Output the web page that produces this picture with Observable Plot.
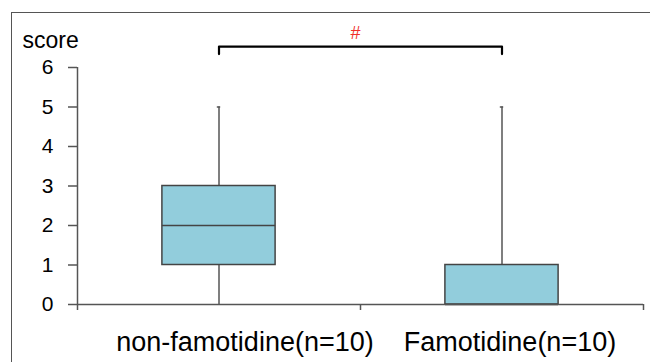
<!DOCTYPE html>
<html>
<head>
<meta charset="utf-8">
<script src="https://cdn.jsdelivr.net/npm/d3@7"></script>
<script src="https://cdn.jsdelivr.net/npm/@observablehq/plot@0.6"></script>
<style>
  html, body { margin: 0; padding: 0; background: #fff; }
  #wrap { position: relative; width: 650px; height: 362px; overflow: hidden; }
  #border { position: absolute; left: 11px; top: 12px; width: 700px; height: 400px;
            border-top: 1.5px solid #555; border-left: 1.5px solid #555; }
  #chart { position: absolute; left: 0; top: 0; }
  svg { font-family: "Liberation Sans", Arial, sans-serif; }
</style>
</head>
<body>
<div id="wrap"><div id="border"></div><div id="chart"></div></div>
<script>
// ---- data ----
const groups = ["non-famotidine(n=10)", "Famotidine(n=10)"];
const whiskerLow = [0, 0];
const q1 = [1, 0];
const median = [2, 0];
const q3 = [3, 1];
const whiskerHigh = [5, 5];
const yTicks = [0, 1, 2, 3, 4, 5, 6];
const yLabel = "score";
const sigMark = "#";
const bracketTop = 6.53;
const bracketEnd = 6.34;

// ---- styles ----
const halfBox = 0.2;        // box half-width in band units
const capHalf = 0.006;
const labelDx = [26, 8];
const boxFill = "#92cddc";
const lineCol = "#555";

const rows = groups.map((g, i) => ({
  g, c: i + 0.5, lo: whiskerLow[i], q1: q1[i], med: median[i], q3: q3[i], hi: whiskerHigh[i]
}));
const bracket = [
  {x: rows[0].c, y: bracketEnd}, {x: rows[0].c, y: bracketTop},
  {x: rows[1].c, y: bracketTop}, {x: rows[1].c, y: bracketEnd}
];

const plot = Plot.plot({
  width: 650, height: 362,
  marginLeft: 77, marginRight: 7, marginTop: 67, marginBottom: 58,
  x: {domain: [0, groups.length]},
  y: {domain: [0, 6]},
  style: {fontFamily: "Liberation Sans, Arial, sans-serif", background: "transparent", overflow: "visible"},
  marks: [
    // whiskers
    Plot.ruleX(rows, {x: "c", y1: "lo", y2: "hi", stroke: lineCol, strokeWidth: 1.5}),
    Plot.ruleY(rows, {y: "hi", x1: d => d.c - capHalf, x2: d => d.c + capHalf, stroke: lineCol, strokeWidth: 1.5}),
    // boxes
    Plot.rectY(rows, {x1: d => d.c - halfBox, x2: d => d.c + halfBox, y1: "q1", y2: "q3",
      fill: boxFill, stroke: "#444", strokeWidth: 1.5}),
    Plot.ruleY(rows, {y: "med", x1: d => d.c - halfBox, x2: d => d.c + halfBox, stroke: "#444", strokeWidth: 1.5}),
    // axes
    Plot.ruleX([0], {y1: 0, y2: 6, stroke: lineCol, strokeWidth: 1.5}),
    Plot.ruleY([0], {stroke: lineCol, strokeWidth: 1.5}),
    Plot.axisY({ticks: yTicks, tickSize: 9, tickFormat: () => "", label: null,
      stroke: lineCol, strokeWidth: 1.5}),
    Plot.text(yTicks, {x: () => 0, y: d => d, text: d => String(d), textAnchor: "end", dx: -24,
      fontSize: 21, fill: "#000"}),
    Plot.axisX({ticks: [0, 1, 2], tickSize: 6, tickFormat: () => "", label: null,
      stroke: lineCol, strokeWidth: 1.5}),
    // category labels
    ...rows.map((r, i) => Plot.text([r], {x: "c", y: () => 0, text: "g", dy: 37.5, dx: labelDx[i],
      fontSize: 27, fill: "#000"})),
    // y label
    Plot.text([yLabel], {frameAnchor: "top-left", dx: -55, dy: -36, textAnchor: "start",
      fontSize: 23, fill: "#000"}),
    // significance bracket
    Plot.line(bracket, {x: "x", y: "y", stroke: "#000", strokeWidth: 2.2}),
    Plot.text([sigMark], {x: () => 1, y: () => bracketTop, dy: -13, dx: -5, fontSize: 18, fill: "#f0302a"})
  ]
});
document.getElementById("chart").appendChild(plot);
</script>
</body>
</html>
